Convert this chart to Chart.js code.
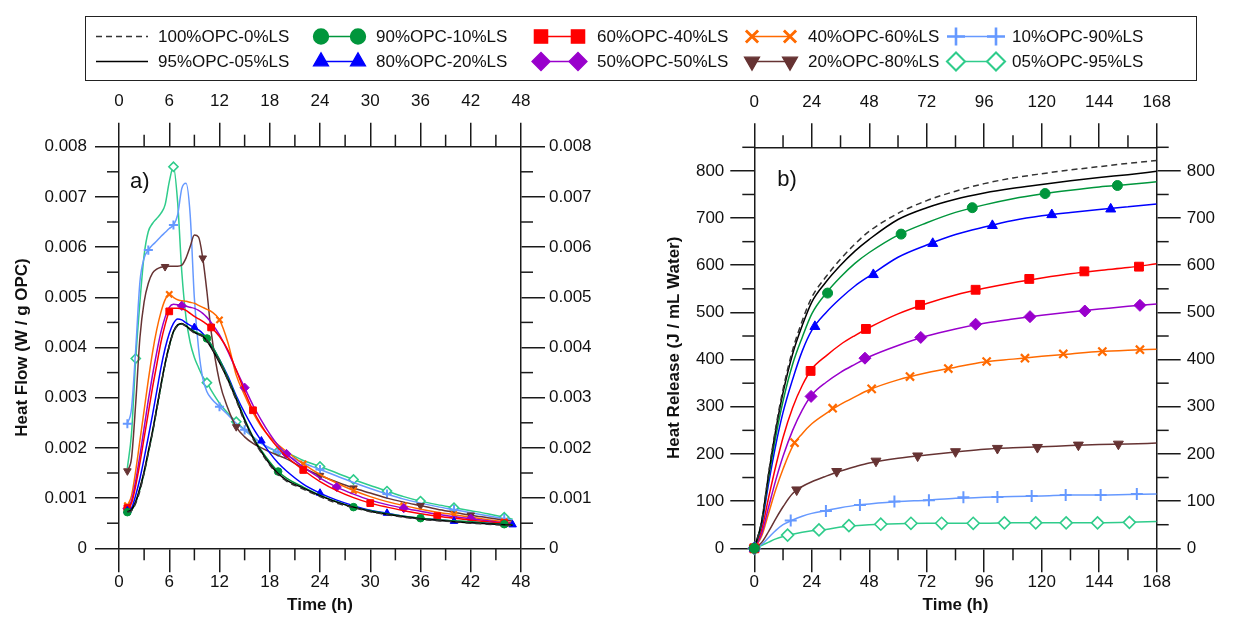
<!DOCTYPE html>
<html>
<head>
<meta charset="utf-8">
<title>Heat flow and heat release</title>
<script src="https://cdn.jsdelivr.net/npm/chart.js@4.4.1/dist/chart.umd.min.js"></script>
<style>
  html, body { margin: 0; padding: 0; background: #fff; }
  body { width: 1236px; height: 633px; position: relative; overflow: hidden; }
  canvas { position: absolute; top: 0; }
  #flow-chart { left: 0; }
  #release-chart { left: 618px; }
  #legend { left: 0; z-index: 2; }
</style>
</head>
<body>
<canvas id="flow-chart" width="618" height="633"></canvas>
<canvas id="release-chart" width="618" height="633"></canvas>
<canvas id="legend" width="1236" height="90"></canvas>
<script>
// Mix labels, legend order: two rows per column
const seriesLabels = [
  '100%OPC-0%LS', '95%OPC-05%LS', '90%OPC-10%LS', '80%OPC-20%LS', '60%OPC-40%LS',
  '50%OPC-50%LS', '40%OPC-60%LS', '20%OPC-80%LS', '10%OPC-90%LS', '05%OPC-95%LS'
];

// a) heat flow, mW / g OPC, sampled at flowHours
const flowHours = [1, 1.5, 2, 2.5, 3, 3.5, 4, 4.5, 5, 5.5, 6, 6.5, 7, 7.5, 8, 8.5, 9, 9.5, 10, 10.5, 11,
  12, 13, 14, 15, 16, 17, 18, 19, 20, 22, 24, 26, 28, 30, 32, 34, 36, 38, 40, 42, 44, 46, 47];

const flow100 = [0.72, 0.75, 0.90, 1.15, 1.50, 1.90, 2.30, 2.76, 3.22, 3.66, 4.02, 4.30, 4.44, 4.47, 4.42, 4.35, 4.29, 4.26, 4.22, 4.14, 4.02,
  3.72, 3.35, 2.95, 2.52, 2.18, 1.90, 1.66, 1.47, 1.34, 1.18, 1.03, 0.90, 0.81, 0.73, 0.67, 0.62, 0.58, 0.55, 0.53, 0.50, 0.48, 0.46, 0.45];
const flow95 = [0.73, 0.77, 0.93, 1.20, 1.53, 1.93, 2.33, 2.79, 3.25, 3.68, 4.04, 4.32, 4.45, 4.48, 4.43, 4.36, 4.30, 4.26, 4.22, 4.13, 4.00,
  3.70, 3.36, 2.97, 2.55, 2.20, 1.92, 1.68, 1.49, 1.36, 1.20, 1.05, 0.92, 0.82, 0.74, 0.68, 0.63, 0.59, 0.56, 0.53, 0.51, 0.49, 0.47, 0.46];
const flow90 = [0.72, 0.76, 0.92, 1.18, 1.50, 1.90, 2.31, 2.77, 3.23, 3.67, 4.03, 4.31, 4.44, 4.47, 4.43, 4.37, 4.32, 4.28, 4.25, 4.18, 4.06,
  3.76, 3.40, 3.00, 2.58, 2.22, 1.95, 1.72, 1.53, 1.40, 1.22, 1.06, 0.93, 0.82, 0.75, 0.69, 0.64, 0.60, 0.57, 0.55, 0.53, 0.50, 0.48, 0.47];
const flow80 = [0.75, 0.80, 1.06, 1.39, 1.79, 2.22, 2.66, 3.12, 3.59, 3.98, 4.28, 4.48, 4.57, 4.55, 4.49, 4.44, 4.40, 4.35, 4.28, 4.18, 4.05,
  3.76, 3.43, 3.04, 2.70, 2.40, 2.14, 1.90, 1.70, 1.54, 1.28, 1.10, 0.96, 0.85, 0.76, 0.70, 0.64, 0.60, 0.57, 0.54, 0.52, 0.50, 0.48, 0.47];
const flow60 = [0.80, 0.90, 1.25, 1.70, 2.20, 2.70, 3.20, 3.65, 4.10, 4.45, 4.72, 4.78, 4.78, 4.77, 4.74, 4.68, 4.62, 4.57, 4.52, 4.46, 4.40,
  4.22, 3.95, 3.55, 3.12, 2.75, 2.45, 2.20, 2.00, 1.83, 1.56, 1.33, 1.15, 1.01, 0.90, 0.82, 0.75, 0.69, 0.64, 0.60, 0.56, 0.53, 0.50, 0.49];
const flow50 = [0.79, 0.95, 1.35, 1.85, 2.40, 2.95, 3.45, 3.90, 4.30, 4.60, 4.80, 4.86, 4.85, 4.83, 4.82, 4.80, 4.78, 4.74, 4.68, 4.60, 4.50,
  4.25, 3.92, 3.55, 3.20, 2.85, 2.55, 2.28, 2.05, 1.88, 1.62, 1.40, 1.22, 1.08, 0.96, 0.87, 0.80, 0.74, 0.68, 0.63, 0.59, 0.55, 0.51, 0.50];
const flow40 = [0.85, 1.05, 1.55, 2.15, 2.75, 3.35, 3.90, 4.35, 4.70, 4.95, 5.06, 5.00, 4.95, 4.93, 4.92, 4.90, 4.88, 4.84, 4.80, 4.76, 4.72,
  4.55, 4.10, 3.45, 3.05, 2.70, 2.42, 2.22, 2.06, 1.93, 1.68, 1.47, 1.30, 1.15, 1.03, 0.93, 0.85, 0.78, 0.72, 0.67, 0.62, 0.57, 0.53, 0.51];
const flow20 = [1.54, 1.80, 2.90, 4.20, 4.91, 5.28, 5.48, 5.56, 5.60, 5.61, 5.62, 5.62, 5.62, 5.64, 5.78, 6.01, 6.24, 6.20, 5.78, 5.11, 4.32,
  3.32, 2.79, 2.42, 2.22, 2.09, 2.00, 1.92, 1.85, 1.78, 1.60, 1.45, 1.32, 1.20, 1.10, 1.00, 0.92, 0.85, 0.78, 0.72, 0.66, 0.61, 0.56, 0.54];
const flow10 = [2.48, 2.79, 3.98, 5.31, 5.78, 5.94, 6.04, 6.12, 6.21, 6.29, 6.37, 6.44, 6.64, 7.17, 7.27, 6.64, 4.98, 3.98, 3.39, 3.12, 2.99,
  2.82, 2.66, 2.49, 2.36, 2.22, 2.09, 2.00, 1.92, 1.85, 1.70, 1.57, 1.44, 1.31, 1.19, 1.08, 0.98, 0.90, 0.83, 0.77, 0.71, 0.65, 0.59, 0.56];
const flow05 = [1.60, 2.30, 3.78, 4.91, 5.84, 6.31, 6.47, 6.57, 6.67, 6.84, 7.30, 7.60, 6.90, 5.50, 4.60, 4.10, 3.80, 3.60, 3.42, 3.30, 3.15,
  2.89, 2.69, 2.52, 2.36, 2.22, 2.09, 1.99, 1.93, 1.90, 1.75, 1.63, 1.50, 1.37, 1.25, 1.14, 1.03, 0.94, 0.87, 0.81, 0.75, 0.69, 0.62, 0.58];

// hours that carry a symbol on each heat flow curve
const flowMarks100 = [];
const flowMarks95 = [];
const flowMarks90 = [1, 10.5, 19, 28, 36, 46];
const flowMarks80 = [1, 9, 17, 24, 32, 40, 47];
const flowMarks60 = [1, 6, 11, 16, 22, 30, 38, 46];
const flowMarks50 = [1, 7.5, 15, 20, 26, 34, 42];
const flowMarks40 = [1, 6, 12, 22, 28, 34, 40, 46];
const flowMarks20 = [1, 5.5, 10, 14, 24, 28, 36, 42];
const flowMarks10 = [1, 3.5, 6.5, 12, 15, 19, 24, 32, 40, 46];
const flowMarks05 = [2, 6.5, 10.5, 14, 19, 24, 28, 32, 36, 40, 46];

// b) cumulative heat release, J / mL water
const releaseHours = [0, 3, 6, 9, 12, 16, 20, 24, 30, 36, 42, 48, 60, 72, 84, 96, 108, 120, 132, 144, 156, 168];

const release100 = [0, 56, 161, 257, 337, 420, 482, 532, 576, 613, 645, 672, 710, 737, 757, 773, 785, 794, 802, 809, 816, 822];
const release95 = [0, 55, 158, 252, 330, 412, 472, 522, 565, 600, 630, 655, 697, 722, 740, 753, 763, 771, 779, 786, 792, 799];
const release90 = [0, 52, 150, 238, 312, 390, 447, 497, 541, 575, 604, 627, 664, 690, 712, 728, 741, 751, 759, 766, 771, 777];
const release80 = [0, 48, 138, 220, 288, 358, 418, 462, 500, 530, 556, 577, 617, 643, 665, 681, 695, 705, 712, 718, 724, 730];
const release60 = [0, 38, 108, 175, 235, 298, 345, 380, 408, 432, 451, 468, 497, 519, 537, 551, 563, 573, 582, 589, 595, 603];
const release50 = [0, 30, 88, 145, 195, 250, 293, 325, 352, 373, 390, 406, 430, 450, 465, 477, 486, 494, 501, 507, 513, 518];
const release40 = [0, 25, 75, 125, 168, 216, 243, 264, 286, 305, 321, 336, 357, 372, 384, 395, 401, 407, 412, 417, 420, 422];
const release20 = [0, 12, 36, 63, 88, 116, 131, 141, 153, 164, 173, 181, 191, 198, 204, 210, 213, 215, 218, 220, 221, 223];
const release10 = [0, 8, 23, 38, 50, 60, 68, 74, 80, 86, 91, 94, 99, 102, 106, 108, 110, 111, 113, 113, 114, 115];
const release05 = [0, 6, 13, 20, 25, 30, 34, 37, 40, 45, 48, 50, 52, 53, 53, 53, 54, 54, 54, 54, 55, 57];

// symbols on the heat release curves, [hour, J/mL]
const releaseMarks100 = [];
const releaseMarks95 = [];
const releaseMarks90 = [[0, 0], [30.6, 541], [61.3, 666], [91, 722], [121.4, 752], [151.6, 769]];
const releaseMarks80 = [[0, 0], [25.3, 470], [49.7, 580], [74.5, 646], [99.4, 684], [124.2, 707], [148.8, 719]];
const releaseMarks60 = [[0, 0], [23.5, 376], [46.6, 465], [69.2, 516], [92.4, 548], [114.8, 571], [137.8, 587], [160.6, 597]];
const releaseMarks50 = [[0, 0], [23.7, 322], [46.2, 403], [69.5, 447], [92.4, 475], [115.1, 491], [138, 503], [161, 515]];
const releaseMarks40 = [[0, 0], [16.8, 224], [32.7, 297], [49, 338], [65, 364], [81, 381], [97, 396], [113, 403], [129, 412], [145.3, 417], [161, 421]];
const releaseMarks20 = [[0, 0], [17.7, 124], [34.4, 163], [50.8, 185], [68.2, 196], [84, 205], [101.5, 212], [118.2, 214], [135.3, 219], [152, 221]];
const releaseMarks10 = [[0, 0], [15.2, 59], [29.9, 79], [44.1, 92], [58.5, 99], [72.9, 102], [87.3, 108], [101.5, 109], [115.8, 111], [130, 113], [144.6, 113], [159.7, 115]];
const releaseMarks05 = [[0, 0], [13.9, 28], [27, 39], [39.5, 48], [52.8, 51], [65.4, 53], [78.2, 53], [91.4, 53], [104.4, 54], [117.5, 54], [130.2, 54], [143.3, 54], [156.6, 55]];

const flowValues = [flow100, flow95, flow90, flow80, flow60, flow50, flow40, flow20, flow10, flow05];
const flowMarks = [flowMarks100, flowMarks95, flowMarks90, flowMarks80, flowMarks60, flowMarks50, flowMarks40, flowMarks20, flowMarks10, flowMarks05];
const releaseValues = [release100, release95, release90, release80, release60, release50, release40, release20, release10, release05];
const releaseMarks = [releaseMarks100, releaseMarks95, releaseMarks90, releaseMarks80, releaseMarks60, releaseMarks50, releaseMarks40, releaseMarks20, releaseMarks10, releaseMarks05];

// line + symbol look of each mix
const styles = [
  { color: '#333333', dash: [6, 4], symbol: null },
  { color: '#000000', dash: [], symbol: null },
  { color: '#00963c', dash: [], symbol: 'circle', size: 1 },
  { color: '#0000ff', dash: [], symbol: 'triangle', size: 1.15 },
  { color: '#ff0000', dash: [], symbol: 'rect', size: 1.25 },
  { color: '#9900cc', dash: [], symbol: 'rectRot', size: 1.2 },
  { color: '#ff6a00', dash: [], symbol: 'crossRot', size: 1.15, stroke: 2.2 },
  { color: '#663333', dash: [], symbol: 'triangle', size: 1.15, rotation: 180 },
  { color: '#6699ff', dash: [], symbol: 'cross', size: 1.2, stroke: 2 },
  { color: '#2fcc8b', dash: [], symbol: 'rectRot', size: 1.2, open: true, stroke: 1.6 }
];

const FONT = '"Liberation Sans", Arial, Helvetica, sans-serif';
const AXIS_COLOR = '#1a1a1a';
const TEXT_COLOR = '#111111';
const MAJOR_TICK = 24;
const MINOR_TICK = 12;

Chart.defaults.font.family = FONT;
Chart.defaults.font.size = 17;
Chart.defaults.color = TEXT_COLOR;

// half-step ticks between the labelled ones, pointing outward
const minorTicks = {
  id: 'minorTicks',
  afterDraw(chart, args, opts) {
    const { ctx, chartArea: area } = chart;
    ctx.save();
    ctx.strokeStyle = AXIS_COLOR;
    ctx.lineWidth = 1.5;
    Object.entries(opts.steps || {}).forEach(([id, step]) => {
      const scale = chart.scales[id];
      const majors = scale.ticks.map(t => t.value);
      const count = Math.round((scale.max - scale.min) / step);
      for (let i = 0; i <= count; i++) {
        const v = scale.min + i * step;
        if (majors.some(m => Math.abs(m - v) < step / 10)) continue;
        const p = scale.getPixelForValue(v);
        ctx.beginPath();
        if (scale.position === 'top') { ctx.moveTo(p, area.top); ctx.lineTo(p, area.top - MINOR_TICK); }
        else if (scale.position === 'bottom') { ctx.moveTo(p, area.bottom); ctx.lineTo(p, area.bottom + MINOR_TICK); }
        else if (scale.position === 'left') { ctx.moveTo(area.left, p); ctx.lineTo(area.left - MINOR_TICK, p); }
        else { ctx.moveTo(area.right, p); ctx.lineTo(area.right + MINOR_TICK, p); }
        ctx.stroke();
      }
    });
    ctx.restore();
  }
};

// "a)" / "b)" inside the plot corner
const panelTag = {
  id: 'panelTag',
  afterDraw(chart, args, opts) {
    const { ctx, chartArea } = chart;
    ctx.save();
    ctx.font = '22px ' + FONT;
    ctx.fillStyle = TEXT_COLOR;
    ctx.fillText(opts.text, chartArea.left + opts.dx, chartArea.top + opts.dy);
    ctx.restore();
  }
};

function makeAxis(o) {
  const horizontal = o.position === 'top' || o.position === 'bottom';
  return {
    type: 'linear',
    position: o.position,
    bounds: 'data',
    min: o.min,
    max: o.max,
    ticks: {
      stepSize: o.step,
      includeBounds: false,
      autoSkip: false,
      maxRotation: 0,
      padding: o.labelPad,
      color: TEXT_COLOR,
      font: { size: 17 },
      callback: o.format || (v => String(v))
    },
    // only whole steps get a long tick and a label
    afterBuildTicks(scale) {
      scale.ticks = scale.ticks.filter(t => Math.abs(t.value / o.step - Math.round(t.value / o.step)) < 1e-6);
    },
    grid: { drawOnChartArea: false, tickLength: MAJOR_TICK, color: AXIS_COLOR, lineWidth: 1.5 },
    border: { display: true, color: AXIS_COLOR, width: 1.5 },
    title: o.title
      ? { display: true, text: o.title, color: TEXT_COLOR, font: { size: 17, weight: 'bold' }, padding: o.titlePad }
      : { display: false },
    afterFit(scale) {
      if (horizontal) scale.height = o.size; else scale.width = o.size;
    }
  };
}

function symbolOptions(style) {
  return {
    pointStyle: style.symbol || 'circle',
    pointRotation: style.rotation || 0,
    pointBackgroundColor: style.open ? '#ffffff' : style.color,
    pointBorderColor: style.color,
    pointBorderWidth: style.stroke || 1
  };
}

const flowTick = v => (v === 0 ? '0' : (v / 1000).toFixed(3));

// a) heat flow
const flowDatasets = styles.map((style, i) => {
  const marks = flowMarks[i];
  const r = style.symbol ? 3.8 * style.size : 0;
  return Object.assign({
    label: seriesLabels[i],
    data: flowHours.map((h, k) => ({ x: h, y: flowValues[i][k] })),
    borderColor: style.color,
    borderWidth: 1.5,
    borderDash: style.dash,
    cubicInterpolationMode: 'monotone',
    pointRadius: ctx => (marks.includes(flowHours[ctx.dataIndex]) ? r : 0),
    pointHoverRadius: 0
  }, symbolOptions(style));
});

new Chart(document.getElementById('flow-chart'), {
  type: 'line',
  data: { datasets: flowDatasets },
  options: {
    responsive: false,
    animation: false,
    events: [],
    layout: { padding: 0 },
    scales: {
      x: makeAxis({ position: 'bottom', min: 0, max: 48, step: 6, size: 84.7, labelPad: 0, title: 'Time (h)', titlePad: { bottom: 17 } }),
      x2: makeAxis({ position: 'top', min: 0, max: 48, step: 6, size: 146.7, labelPad: 11 }),
      y: makeAxis({ position: 'left', min: 0, max: 8, step: 1, size: 119, labelPad: 8, format: flowTick, title: 'Heat Flow (W / g OPC)', titlePad: { top: 12 } }),
      y2: makeAxis({ position: 'right', min: 0, max: 8, step: 1, size: 97, labelPad: 4, format: flowTick })
    },
    plugins: {
      legend: { display: false },
      tooltip: { enabled: false },
      minorTicks: { steps: { x: 3, x2: 3, y: 0.5, y2: 0.5 } },
      panelTag: { text: 'a)', dx: 11, dy: 41 }
    }
  },
  plugins: [minorTicks, panelTag]
});

// b) heat release: smooth lines plus separate symbol sets
const releaseDatasets = [];
styles.forEach((style, i) => {
  releaseDatasets.push({
    label: seriesLabels[i],
    data: releaseHours.map((h, k) => ({ x: h, y: releaseValues[i][k] })),
    borderColor: style.color,
    borderWidth: 1.5,
    borderDash: style.dash,
    cubicInterpolationMode: 'monotone',
    pointRadius: 0,
    order: 1
  });
  if (style.symbol) {
    releaseDatasets.push(Object.assign({
      label: seriesLabels[i] + ' symbols',
      data: releaseMarks[i].map(([h, v]) => ({ x: h, y: v })),
      showLine: false,
      clip: false,
      pointRadius: 5 * style.size,
      pointHoverRadius: 0,
      order: 0
    }, symbolOptions(style)));
  }
});

new Chart(document.getElementById('release-chart'), {
  type: 'line',
  data: { datasets: releaseDatasets },
  options: {
    responsive: false,
    animation: false,
    events: [],
    layout: { padding: 0 },
    scales: {
      x: makeAxis({ position: 'bottom', min: 0, max: 168, step: 24, size: 84.7, labelPad: 0, title: 'Time (h)', titlePad: { bottom: 17 } }),
      x2: makeAxis({ position: 'top', min: 0, max: 168, step: 24, size: 147.3, labelPad: 11 }),
      y: makeAxis({ position: 'left', min: 0, max: 850, step: 100, size: 136.3, labelPad: 6, title: 'Heat Release (J / mL Water)', titlePad: { top: 46 } }),
      y2: makeAxis({ position: 'right', min: 0, max: 850, step: 100, size: 79.3, labelPad: 6 })
    },
    plugins: {
      legend: { display: false },
      tooltip: { enabled: false },
      minorTicks: { steps: { x: 12, x2: 12, y: 50, y2: 50 } },
      panelTag: { text: 'b)', dx: 23, dy: 39 }
    }
  },
  plugins: [minorTicks, panelTag]
});

// legend box across the top, five columns of two entries
const legendCols = [
  { line: [96, 148], text: 158 },
  { marks: [321, 358], text: 376 },
  { marks: [541, 578], text: 597 },
  { marks: [752, 790], text: 808 },
  { marks: [956, 996], text: 1012 }
];
const legendRows = [36.5, 61.5];

const lg = document.getElementById('legend').getContext('2d');
lg.strokeStyle = '#222';
lg.lineWidth = 1;
lg.strokeRect(85.5, 16.5, 1111, 64);
lg.font = '17px ' + FONT;
lg.textBaseline = 'middle';

styles.forEach((style, i) => {
  const col = legendCols[Math.floor(i / 2)];
  const y = legendRows[i % 2];
  const [x0, x1] = col.line || col.marks;
  lg.save();
  lg.strokeStyle = style.color;
  lg.lineWidth = 1.5;
  lg.setLineDash(style.dash);
  lg.beginPath();
  lg.moveTo(x0, y);
  lg.lineTo(x1, y);
  lg.stroke();
  lg.restore();
  if (style.symbol) {
    [x0, x1].forEach(x => {
      lg.save();
      lg.fillStyle = style.open ? '#ffffff' : style.color;
      lg.strokeStyle = style.color;
      lg.lineWidth = (style.stroke || 1) * 1.3;
      Chart.helpers.drawPoint(lg, {
        pointStyle: style.symbol,
        rotation: style.rotation || 0,
        radius: 7.5 * style.size,
        borderWidth: lg.lineWidth
      }, x, y);
      lg.restore();
    });
  }
  lg.fillStyle = TEXT_COLOR;
  lg.fillText(seriesLabels[i], col.text, y + 1);
});
</script>
</body>
</html>
